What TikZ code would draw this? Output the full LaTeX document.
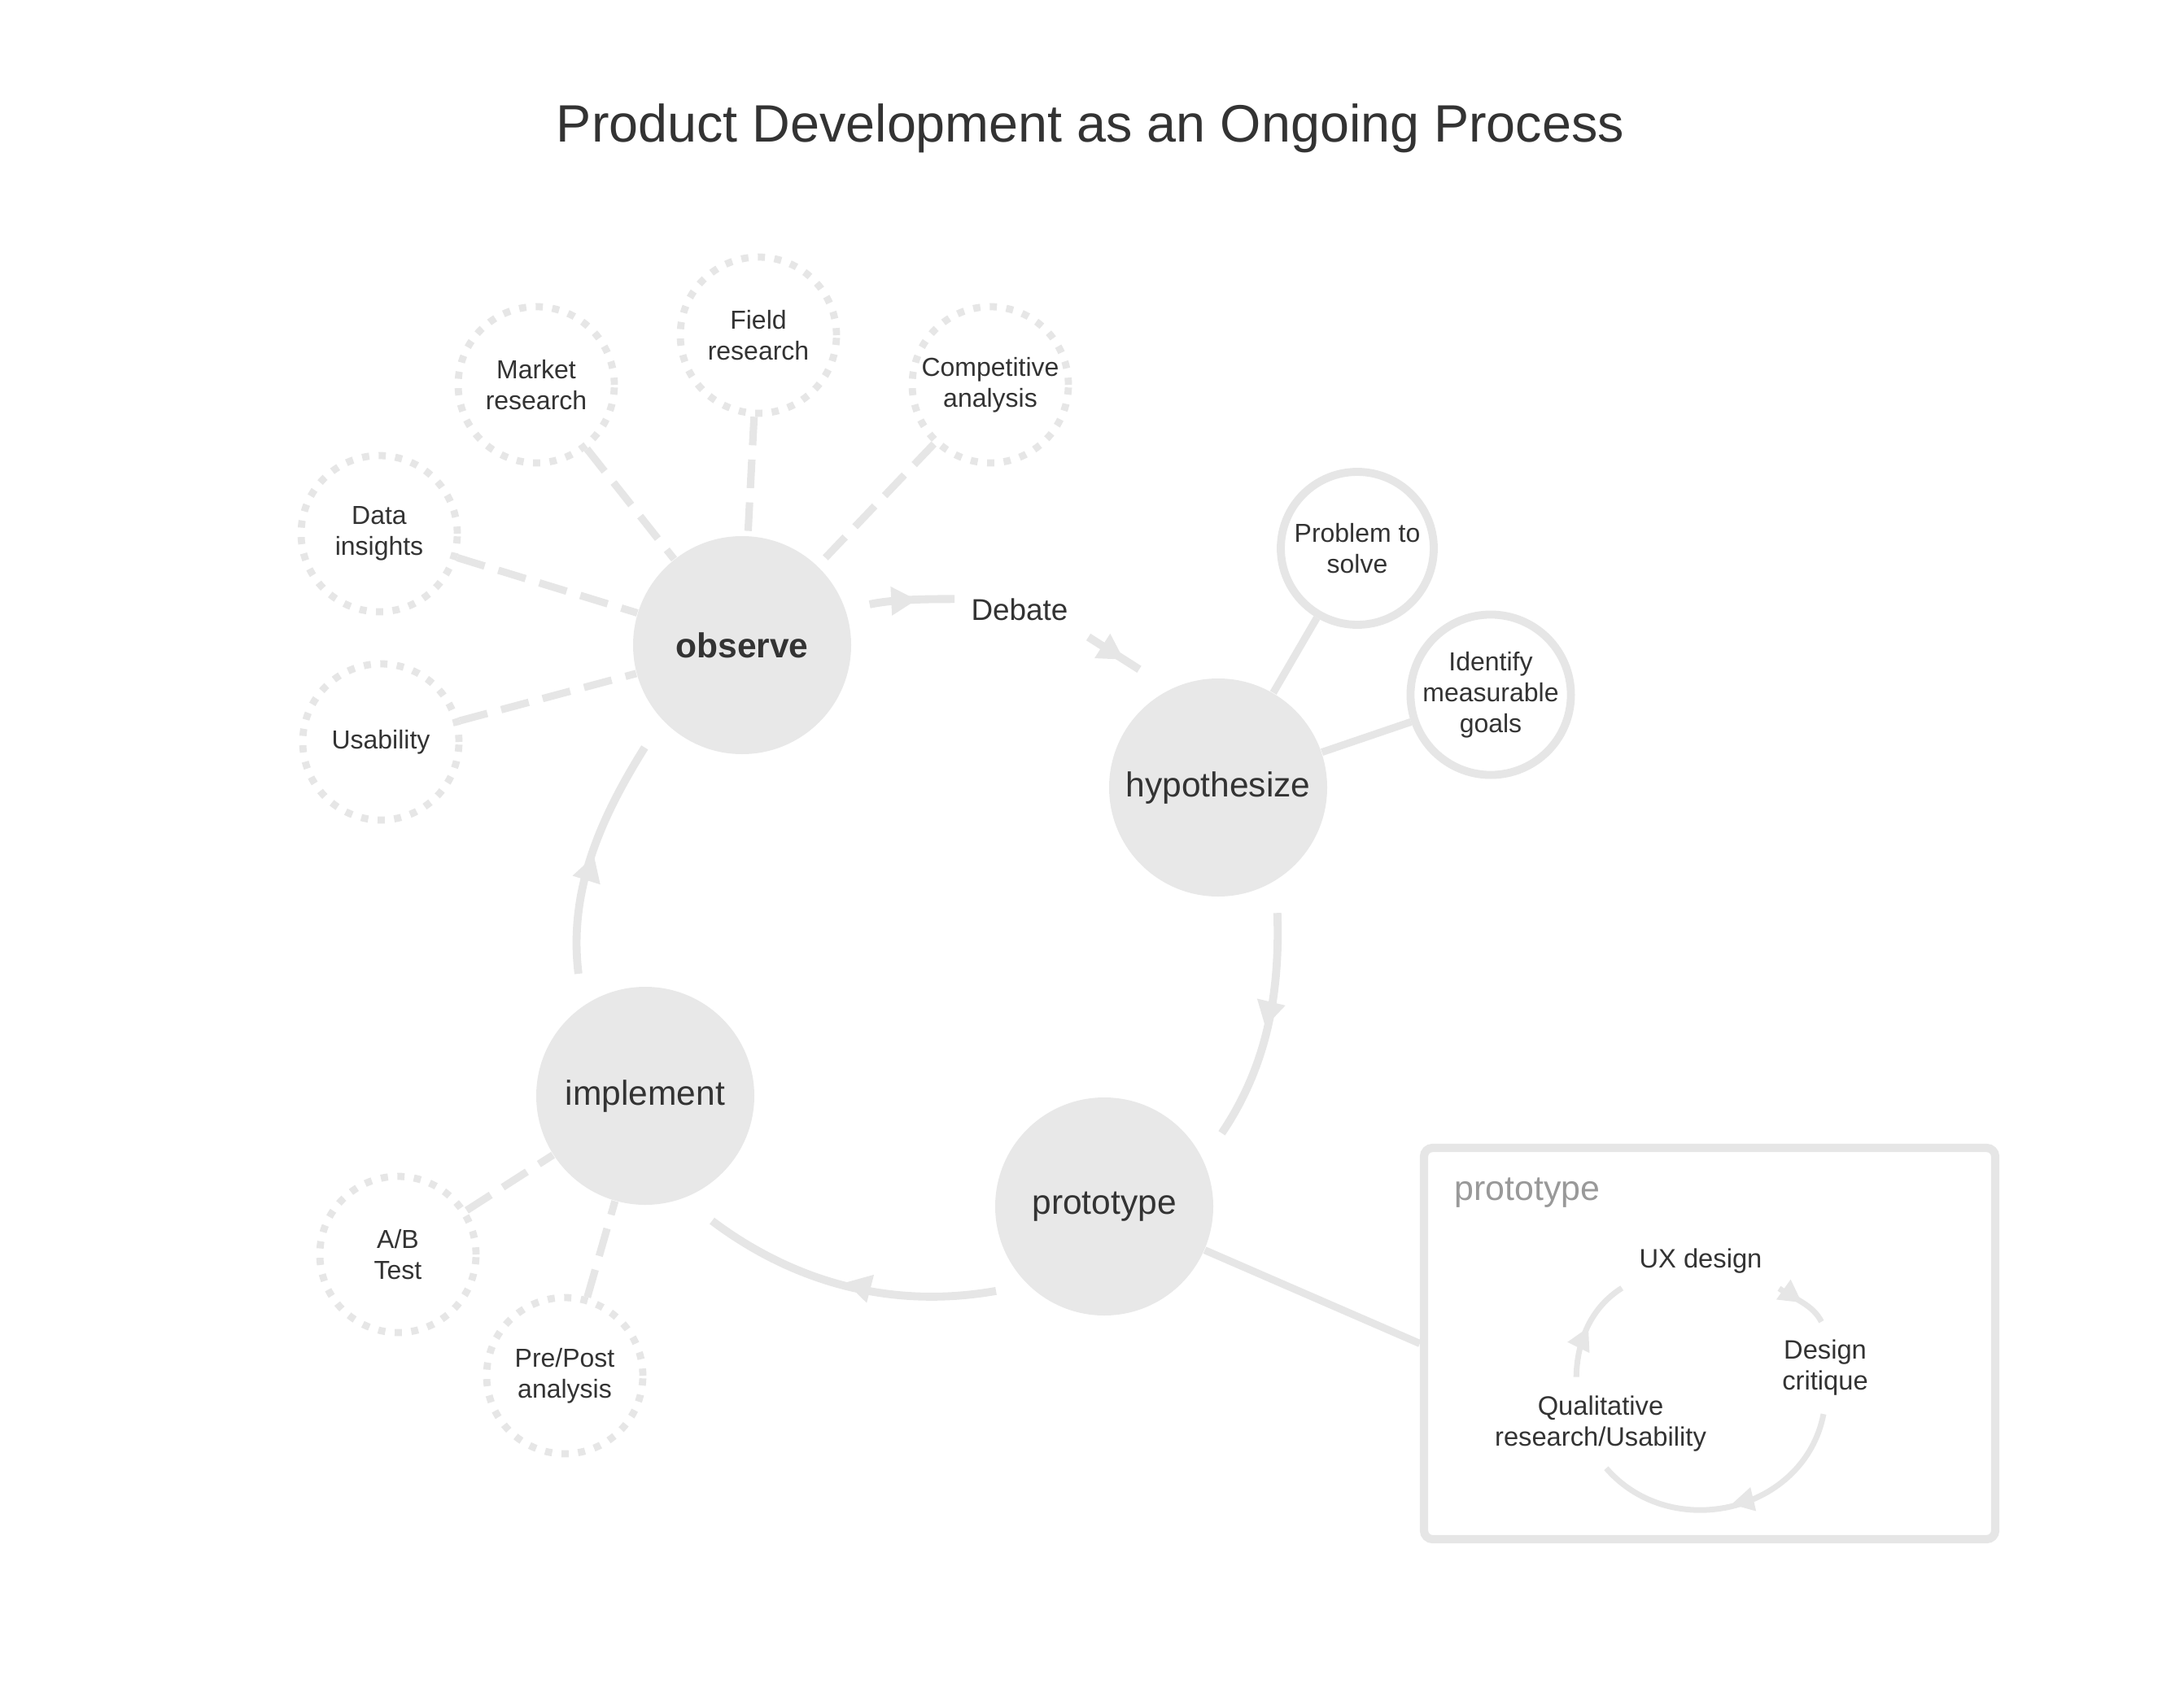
\documentclass[tikz,border=0pt]{standalone}
\usepackage{fontspec}
\setmainfont{Liberation Sans}
\usetikzlibrary{arrows.meta,decorations.markings}
\definecolor{pale}{HTML}{E6E6E6}
\definecolor{bub}{HTML}{E8E8E8}
\definecolor{ink}{HTML}{333333}
\definecolor{mute}{HTML}{999999}

\begin{document}
\begin{tikzpicture}[>=Stealth,text=ink]
\tikzstyle{stage}=[circle,fill=bub,minimum size=2.68cm,inner sep=0pt,font=\fontsize{12.1}{14}\selectfont]
\tikzstyle{idea}=[circle,draw=pale,fill=white,line width=2.5pt,dash pattern=on 2.5pt off 3.3pt,minimum size=1.92cm,inner sep=0pt,align=center,font=\fontsize{9.1}{10.8}\selectfont]
\tikzstyle{goal}=[idea,solid,line width=2.8pt,minimum size=1.88cm]
\tikzstyle{dlink}=[pale,line width=2.6pt,dash pattern=on 10pt off 5pt]
\tikzstyle{slink}=[pale,line width=2.6pt]
\tikzstyle{cyc}[0.5]=[pale,line width=2.8pt,postaction={decorate},decoration={markings,mark=at position #1 with {\arrow{Triangle[length=9pt,width=9.5pt]}}}]
\tikzstyle{minicyc}=[pale,line width=2pt,shorten <=3pt,shorten >=3pt,postaction={decorate},decoration={markings,mark=at position 0.5 with {\arrow{Triangle[length=8pt,width=8pt]}}}]
\useasboundingbox (0,0) rectangle (26.84,-20.70);
\node[anchor=base,font=\fontsize{18.4}{22}\selectfont] (title) at (13.40,-1.74) {Product Development as an Ongoing Process};
% the four stages
\node[stage,font=\fontsize{12.1}{14}\selectfont\bfseries] (obs) at (9.12,-7.93) {observe};
\node[stage] (hyp) at (14.97,-9.68) {hypothesize};
\node[stage] (proto) at (13.57,-14.83) {prototype};
\node[stage] (impl) at (7.93,-13.47) {implement};
% activities
\node[idea] (market) at (6.59,-4.73) {Market\\research};
\node[idea] (field) at (9.32,-4.12) {Field\\research};
\node[idea] (comp) at (12.17,-4.73) {Competitive\\analysis};
\node[idea] (data) at (4.66,-6.56) {Data\\insights};
\node[idea] (usab) at (4.68,-9.12) {Usability};
\node[idea] (ab) at (4.89,-15.42) {A/B\\Test};
\node[idea] (prepost) at (6.94,-16.91) {Pre/Post\\analysis};
\node[goal] (problem) at (16.68,-6.74) {Problem to\\solve};
\node[goal] (goals) at (18.32,-8.54) {Identify\\measurable\\goals};
\foreach \s in {market,field,comp,data,usab} \draw[dlink] (\s) -- (obs);
\foreach \s in {ab,prepost} \draw[dlink] (\s) -- (impl);
\draw[slink] (hyp) -- (problem);
\draw[slink] (hyp) -- (goals);
% the loop
\node[font=\fontsize{10.5}{12}\selectfont] (debate) at (12.53,-7.49) {Debate};
\draw[cyc=0.62,shorten <=0.3cm,shorten >=0.08cm] (obs.19) to[out=12,in=180] (debate.170);
\draw[cyc,shorten <=0.15cm,shorten >=0.45cm] (debate.south east) -- (hyp.116);
\draw[cyc,shorten <=0.4cm,shorten >=0.4cm] (hyp.-58) to[out=-88,in=56] (proto.25);
\draw[cyc,shorten <=0.4cm,shorten >=0.45cm] (proto.226) to[out=190,in=-37] (impl.-70);
\draw[cyc,shorten <=0.4cm,shorten >=0.4cm] (impl.125) to[out=97,in=-122] (obs.223);
% prototype detail
\node[draw=pale,line width=2.9pt,rounded corners=3pt,minimum width=7.02cm,minimum height=4.81cm] (panel) at (21.01,-16.515) {};
\node[anchor=base west,text=mute,font=\fontsize{12.2}{14}\selectfont] (ptitle) at (17.75,-14.75) {prototype};
\draw[slink] (proto) -- (panel.west);
\node[font=\fontsize{9.3}{10.9}\selectfont] (ux) at (20.90,-15.50) {UX design};
\node[align=center,font=\fontsize{9.3}{10.9}\selectfont] (crit) at (22.43,-16.81) {Design\\critique};
\node[align=center,font=\fontsize{9.3}{10.9}\selectfont] (qual) at (19.67,-17.50) {Qualitative\\research/Usability};
\draw[minicyc] (ux.south east) to[out=-35,in=116] (crit.north);
\draw[minicyc] (crit.south) to[out=-101,in=-49,looseness=1.2] (qual.south);
\draw[minicyc] ([xshift=-0.3cm]qual.north) to[out=89,in=-148] (ux.south west);
\end{tikzpicture}
\end{document}
